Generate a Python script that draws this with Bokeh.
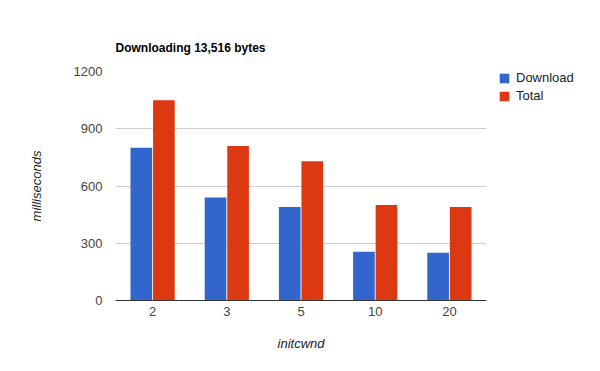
from bokeh.plotting import figure
from bokeh.models import FactorRange, ColumnDataSource, Legend, LegendItem, Range1d, FixedTicker
from bokeh.transform import dodge
from bokeh.embed import file_html
from bokeh.resources import INLINE

categories = ["2", "3", "5", "10", "20"]
download = [800, 540, 490, 255, 250]
total = [1050, 810, 730, 500, 490]
y_ticks = [0, 300, 600, 900, 1200]

src = ColumnDataSource(dict(cat=categories, download=download, total=total))

FONT = "Liberation Sans"

p = figure(frame_width=371, frame_height=229, x_range=FactorRange(*categories), y_range=Range1d(0, 1200),
           output_backend="svg", toolbar_location=None,
           min_border_left=115, min_border_right=114, min_border_top=71, min_border_bottom=71)
p.outline_line_color = None
p.background_fill_color = "white"

p.title.text = "Downloading 13,516 bytes"
p.title.text_font = FONT
p.title.text_font_size = "12px"
p.title.text_font_style = "bold"
p.title.text_color = "#000000"
p.title.offset = 0
p.title.standoff = 34

r1 = p.vbar(x=dodge("cat", -0.152, range=p.x_range), top="download", width=0.292, source=src,
            fill_color="#3366CC", line_color=None)
r2 = p.vbar(x=dodge("cat", 0.152, range=p.x_range), top="total", width=0.292, source=src,
            fill_color="#DC3912", line_color=None)

p.yaxis.ticker = FixedTicker(ticks=y_ticks)
p.ygrid.ticker = FixedTicker(ticks=y_ticks)
p.ygrid.grid_line_color = "#CCCCCC"
p.xgrid.grid_line_color = None
p.yaxis.axis_line_color = None
p.yaxis.major_tick_line_color = None
p.yaxis.minor_tick_line_color = None
p.yaxis.major_tick_out = 0
p.yaxis.major_label_standoff = 13
p.yaxis.axis_label = "milliseconds"
p.yaxis.axis_label_standoff = 27

p.xaxis.axis_line_color = "#333333"
p.xaxis.major_tick_line_color = None
p.xaxis.major_tick_out = 0
p.xaxis.major_label_standoff = 6
p.xaxis.axis_label = "initcwnd"
p.xaxis.axis_label_standoff = 17

for ax in (p.xaxis[0], p.yaxis[0]):
    ax.major_label_text_font = FONT
    ax.major_label_text_font_size = "13px"
    ax.major_label_text_color = "#444444"
    ax.axis_label_text_font = FONT
    ax.axis_label_text_font_size = "13px"
    ax.axis_label_text_font_style = "italic"
    ax.axis_label_text_color = "#222222"

legend = Legend(items=[LegendItem(label="Download", renderers=[r1]),
                       LegendItem(label="Total", renderers=[r2])],
                location=(12, 197), padding=0, margin=0, spacing=3,
                glyph_width=12, glyph_height=12, label_height=12, label_standoff=6,
                label_text_font=FONT, label_text_font_size="13px", label_text_color="#222222",
                border_line_color=None, background_fill_alpha=0)
p.add_layout(legend, "right")

open("out.html", "w").write(file_html(p, INLINE))
